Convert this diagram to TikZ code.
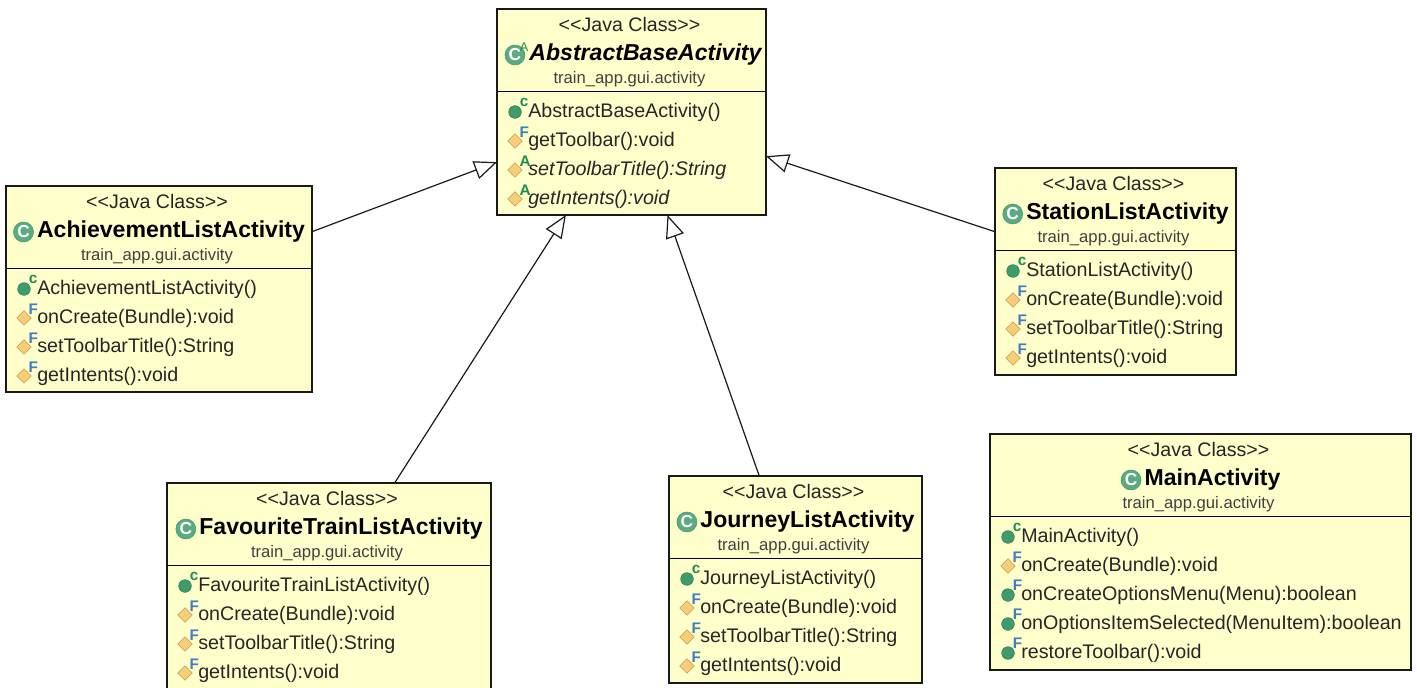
\documentclass[tikz,border=0pt]{standalone}
\usepackage{fontspec}
\setmainfont{Liberation Sans}
\usepackage{tikz}
\usetikzlibrary{arrows.meta,positioning,shapes.geometric}

\definecolor{boxfill}{HTML}{FFFFCC}
\definecolor{icongreen}{HTML}{3F9B6C}
\definecolor{letgreen}{HTML}{1E8C50}
\definecolor{letblue}{HTML}{3F7FC0}
\definecolor{diamondfill}{HTML}{F6CE7A}
\definecolor{diamonddraw}{HTML}{C8964A}
\def\px{0.75pt}

% one class: name, placement, width, height, title font, title
\newcommand{\classnode}[6]{
  \node[classbox,minimum width=#3*\px,minimum height=#4*\px] (#1) [#2] {};
  \node[stereotype] (#1-st) at ([xshift=-2*\px,yshift=-15*\px]#1.north) {{<}{<}Java Class{>}{>}};
  \node[#5] (#1-title) at ([xshift=12*\px,yshift=-46*\px]#1.north) {#6};
  \node[classicon] (#1-icon) at ([xshift=-3*\px]#1-title.west) {C};
  \node[package] (#1-pkg) at ([xshift=-2*\px,yshift=-70.5*\px]#1.north) {train\_app.gui.activity};
  \draw[thick] ([yshift=-82.5*\px]#1.north west) -- ([yshift=-82.5*\px]#1.north east);
}
% one row of a class: name, row, icon style, text font, text
\newcommand{\member}[5]{
  \node[membertext,#4] (#1-m#2) at ([xshift=31*\px,yshift={-(103+29*#2)*\px}]#1.north west) {#5};
  \node[#3] (#1-i#2) at ([xshift=18*\px,yshift={-(103+29*#2)*\px}]#1.north west) {};
}

\begin{document}
\begin{tikzpicture}[x=0.75pt,y=-0.75pt,node distance=2cm,on grid]
  \tikzset{
    classbox/.style={rectangle,draw=black!90,fill=boxfill,line width=1.5pt,outer sep=0pt},
    stereotype/.style={font=\fontsize{14.7}{16}\selectfont,text=black!85,inner sep=0pt},
    package/.style={font=\fontsize{12.5}{14}\selectfont,text=black!75,inner sep=0pt},
    classname/.style={font=\fontsize{17.3}{20}\selectfont\bfseries,text=black,inner sep=0pt},
    absname/.style={font=\fontsize{17.3}{20}\selectfont\bfseries\itshape,text=black,inner sep=0pt},
    membertext/.style={font=\fontsize{14.75}{16}\selectfont,text=black!85,anchor=west,inner sep=0pt},
    slanted/.style={font=\fontsize{14.75}{16}\selectfont\itshape},
    classicon/.style={circle,draw=icongreen,fill=icongreen!85,text=white,inner sep=0pt,
      minimum size=15pt,font=\fontsize{13}{13}\selectfont\bfseries,anchor=east},
    flag/.style={inner sep=0pt,font=\fontsize{11.5}{11}\selectfont\bfseries},
    ctoricon/.style={circle,fill=icongreen,draw=icongreen!80!black,inner sep=0pt,minimum size=9.5pt,
      label={[flag,text=letgreen]45:c}},
    pubicon/.style={circle,fill=icongreen,draw=icongreen!80!black,inner sep=0pt,minimum size=9.5pt,
      label={[flag,text=letblue]45:F}},
    finalicon/.style={diamond,fill=diamondfill,draw=diamonddraw,inner sep=0pt,minimum size=11pt,
      label={[flag,text=letblue]35:F}},
    abstracticon/.style={diamond,fill=diamondfill,draw=diamonddraw,inner sep=0pt,minimum size=11pt,
      label={[flag,text=letgreen]35:A}},
    extends/.style={-{Triangle[open,fill=white,length=17pt,width=14pt]},line width=0.9pt,black!90}
  }
  \clip (0,0) rectangle (1417,688);
  \useasboundingbox (0,0) rectangle (1417,688);

  \node[classbox,minimum width=269*\px,minimum height=206*\px] (abstract) at (631.5,112) {};
  \node[stereotype] (abstract-st) at ([xshift=-2*\px,yshift=-15*\px]abstract.north) {{<}{<}Java Class{>}{>}};
  \node[absname] (abstract-title) at ([xshift=14*\px,yshift=-46*\px]abstract.north) {AbstractBaseActivity};
  \node[classicon] (abstract-icon) at ([xshift=-4*\px]abstract-title.west) {C};
  \node[flag,text=letgreen,font=\fontsize{9.5}{9}\selectfont] (abstract-a) at ([xshift=-1*\px,yshift=8*\px]abstract-icon.east) {A};
  \node[package] (abstract-pkg) at ([xshift=-2*\px,yshift=-70.5*\px]abstract.north) {train\_app.gui.activity};
  \draw[thick] ([yshift=-82.5*\px]abstract.north west) -- ([yshift=-82.5*\px]abstract.north east);
  \member{abstract}{0}{ctoricon}{}{AbstractBaseActivity()}
  \member{abstract}{1}{finalicon}{}{getToolbar():void}
  \member{abstract}{2}{abstracticon}{slanted}{setToolbarTitle():String}
  \member{abstract}{3}{abstracticon}{slanted}{getIntents():void}

  \classnode{achievement}{below left=177*\px and 472.5*\px of abstract}{306}{206}{classname}{AchievementListActivity}
  \member{achievement}{0}{ctoricon}{}{AchievementListActivity()}
  \member{achievement}{1}{finalicon}{}{onCreate(Bundle):void}
  \member{achievement}{2}{finalicon}{}{setToolbarTitle():String}
  \member{achievement}{3}{finalicon}{}{getIntents():void}

  \classnode{station}{below right=159.5*\px and 484*\px of abstract}{241}{207}{classname}{StationListActivity}
  \member{station}{0}{ctoricon}{}{StationListActivity()}
  \member{station}{1}{finalicon}{}{onCreate(Bundle):void}
  \member{station}{2}{finalicon}{}{setToolbarTitle():String}
  \member{station}{3}{finalicon}{}{getIntents():void}

  \classnode{favourite}{below left=474*\px and 302.5*\px of abstract}{324}{206}{classname}{FavouriteTrainListActivity}
  \member{favourite}{0}{ctoricon}{}{FavouriteTrainListActivity()}
  \member{favourite}{1}{finalicon}{}{onCreate(Bundle):void}
  \member{favourite}{2}{finalicon}{}{setToolbarTitle():String}
  \member{favourite}{3}{finalicon}{}{getIntents():void}

  \classnode{journey}{below right=467.5*\px and 164*\px of abstract}{253}{207}{classname}{JourneyListActivity}
  \member{journey}{0}{ctoricon}{}{JourneyListActivity()}
  \member{journey}{1}{finalicon}{}{onCreate(Bundle):void}
  \member{journey}{2}{finalicon}{}{setToolbarTitle():String}
  \member{journey}{3}{finalicon}{}{getIntents():void}

  \classnode{main}{below right=440*\px and 569*\px of abstract}{421}{236}{classname}{MainActivity}
  \member{main}{0}{ctoricon}{}{MainActivity()}
  \member{main}{1}{finalicon}{}{onCreate(Bundle):void}
  \member{main}{2}{pubicon}{}{onCreateOptionsMenu(Menu):boolean}
  \member{main}{3}{pubicon}{}{onOptionsItemSelected(MenuItem):boolean}
  \member{main}{4}{pubicon}{}{restoreToolbar():void}

  \path[extends] (achievement) edge (abstract);
  \path[extends] (favourite) edge (abstract);
  \path[extends] (journey) edge (abstract);
  \path[extends] (station) edge (abstract);
\end{tikzpicture}
\end{document}
